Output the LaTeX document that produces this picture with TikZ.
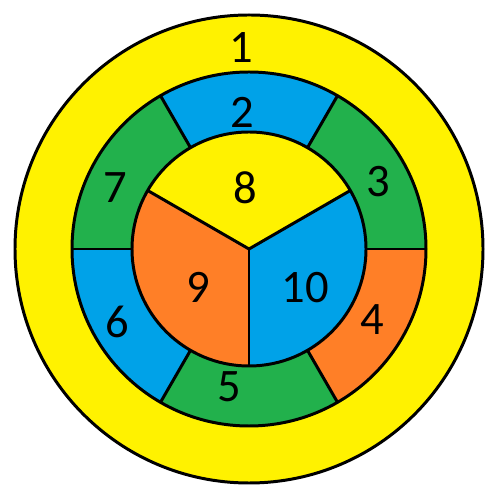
\documentclass[tikz,border=0pt]{standalone}
\usepackage{fontspec}
\setmainfont{Carlito}
\usepackage{tikz}
\usetikzlibrary{positioning}

\definecolor{dartyellow}{HTML}{FFF200}
\definecolor{dartblue}{HTML}{00A2E8}
\definecolor{dartgreen}{HTML}{22B14C}
\definecolor{dartorange}{HTML}{FF7F27}

\begin{document}
\begin{tikzpicture}[
    x=0.02cm, y=0.02cm,
    edge/.style={
        draw=black,
        line width=1.7pt
    },
    num/.style={
        font=\fontsize{26.5}{30}\selectfont,
        inner sep=0pt
    }
]
\useasboundingbox (0,0) rectangle (500,500);
\coordinate (c) at (249,251);

% Rings
\begin{scope}[shift={(c)}]
\fill[dartyellow] (0,0) circle[radius=234];
\foreach \a/\col in {0/dartgreen, 60/dartblue, 120/dartgreen, 180/dartblue, 240/dartgreen, 300/dartorange}
    \fill[\col] (\a:177) arc[start angle=\a, delta angle=60, radius=177]
        -- (\a+60:117) arc[start angle=\a+60, delta angle=-60, radius=117] -- cycle;
\foreach \a/\col in {30/dartyellow, 150/dartorange, 270/dartblue}
    \fill[\col] (0,0) -- (\a:117) arc[start angle=\a, delta angle=120, radius=117] -- cycle;

% Borders
\draw[edge] (0,0) circle[radius=234];
\draw[edge] (0,0) circle[radius=177];
\draw[edge] (0,0) circle[radius=117];
\foreach \a in {0,60,...,300}
    \draw[edge] (\a:117) -- (\a:177);
\foreach \a in {30,150,270}
    \draw[edge] (0,0) -- (\a:117);
\end{scope}

% Numbers
\node (n1) [num] at (241,452) {1};
\node (n2) [num] at (242,388) {2};
\node (n3) [num] at (378,318) {3};
\node (n4) [num] at (372,180) {4};
\node (n5) [num] at (229,113) {5};
\node (n6) [num] at (117,178) {6};
\node (n7) [num] at (115,312) {7};
\node (n8) [num] at (245,312) {8};
\node (n9) [num] at (198,213) {9};
\node (n10) [num] at (305,212) {10};

\end{tikzpicture}
\end{document}
